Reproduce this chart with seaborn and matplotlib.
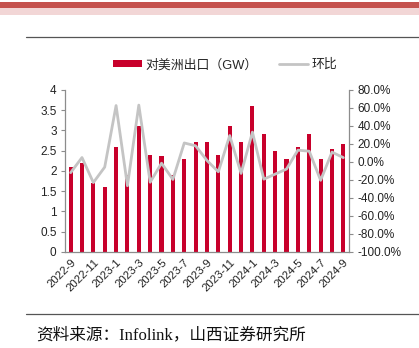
import numpy as np
import pandas as pd
import matplotlib
matplotlib.use("Agg")
import matplotlib.pyplot as plt
from matplotlib.patches import Patch, Rectangle
from matplotlib.lines import Line2D
import seaborn as sns

months = ["2022-9", "2022-10", "2022-11", "2022-12", "2023-1", "2023-2", "2023-3",
          "2023-4", "2023-5", "2023-6", "2023-7", "2023-8", "2023-9", "2023-10",
          "2023-11", "2023-12", "2024-1", "2024-2", "2024-3", "2024-4", "2024-5",
          "2024-6", "2024-7", "2024-8", "2024-9"]
export_gw = [2.1, 2.2, 1.7, 1.6, 2.6, 1.9, 3.1, 2.4, 2.37, 1.9, 2.3, 2.7, 2.72,
             2.4, 3.1, 2.7, 3.6, 2.9, 2.5, 2.3, 2.6, 2.9, 2.3, 2.55, 2.67]
mom_pct = [-12.0, 4.8, -23.0, -5.8, 62.5, -26.5, 63.0, -22.6, -1.5, -19.5, 21.0,
           17.8, 1.5, -11.0, 29.2, -12.8, 33.0, -19.2, -13.6, -8.0, 13.0, 11.8,
           -20.5, 10.8, 4.7]
left_ticks = [0, 0.5, 1, 1.5, 2, 2.5, 3, 3.5, 4]
left_labels = ["0", "0.5", "1", "1.5", "2", "2.5", "3", "3.5", "4"]
right_ticks = [-100, -80, -60, -40, -20, 0, 20, 40, 60, 80]
right_labels = ["-100.0%", "-80.0%", "-60.0%", "-40.0%", "-20.0%", "0.0%",
                "20.0%", "40.0%", "60.0%", "80.0%"]
bar_label = "对美洲出口（GW）"
line_label = "环比"
source_text = "资料来源：Infolink，山西证券研究所"

BAR_COLOR = "#C8002B"
LINE_COLOR = "#C4C4C4"
AXIS_COLOR = "#8C8C8C"
TICK_FS = 8.5

sns.set_style("white")
plt.rcParams["font.family"] = ["Liberation Sans", "Noto Sans CJK SC", "DejaVu Sans"]

df = pd.DataFrame({"month": months, "gw": export_gw, "mom": mom_pct,
                   "pos": np.arange(len(months))})

fig = plt.figure(figsize=(4.19, 3.48), dpi=100)
ax = fig.add_axes([0.155, 0.276, 0.678, 0.466])

sns.barplot(data=df, x="month", y="gw", order=months, color=BAR_COLOR,
            width=0.36, saturation=1, ax=ax, edgecolor="none")
ax.set_xlim(-0.5, len(months) - 0.5)
ax.set_ylim(0, 4)
ax.set_yticks(left_ticks)
ax.set_yticklabels(left_labels, fontsize=TICK_FS, color="#222222")
ax.set_xlabel("")
ax.set_ylabel("")

ax2 = ax.twinx()
sns.lineplot(data=df, x="pos", y="mom", color=LINE_COLOR, linewidth=2.0, ax=ax2,
             legend=False)
ax2.set_ylim(-100, 80)
ax2.set_yticks(right_ticks)
ax2.set_yticklabels(right_labels, fontsize=TICK_FS, color="#222222")
ax2.set_ylabel("")
ax2.set_xlim(-0.5, len(months) - 0.5)

# x ticks: labels every 2 months, tick marks at category boundaries
ax.set_xticks(np.arange(0, len(months), 2))
ax.set_xticklabels(months[::2], rotation=45, ha="right", rotation_mode="anchor",
                   fontsize=8.2, color="#222222")
ax.set_xticks(np.arange(-0.5, len(months), 1), minor=True)
ax.tick_params(axis="x", which="major", length=0, pad=4)
ax.tick_params(axis="x", which="minor", length=3, color=AXIS_COLOR, width=0.8)
ax.tick_params(axis="y", length=3, color=AXIS_COLOR, width=0.8, pad=3, left=True)
ax2.tick_params(axis="y", length=3, color=AXIS_COLOR, width=0.8, pad=3, right=True)
ax2.tick_params(axis="x", which="both", length=0)

for a in (ax, ax2):
    for s in a.spines.values():
        s.set_visible(False)
ax.spines["left"].set_visible(True)
ax.spines["bottom"].set_visible(True)
ax2.spines["right"].set_visible(True)
for s in (ax.spines["left"], ax.spines["bottom"], ax2.spines["right"]):
    s.set_color(AXIS_COLOR)
    s.set_linewidth(0.9)

# legend
handles = [Patch(facecolor=BAR_COLOR, edgecolor="none", label=bar_label),
           Line2D([0], [0], color=LINE_COLOR, linewidth=2.0, label=line_label)]
fig.legend(handles=handles, loc="center", bbox_to_anchor=(0.537, 0.813), ncol=2,
           frameon=False, fontsize=9.3, handlelength=2.3, handleheight=0.45,
           handletextpad=0.25, columnspacing=1.6)

# page decorations
fig.patches.append(Rectangle((0, 0.977), 1, 0.016, transform=fig.transFigure,
                             facecolor="#C5524E", edgecolor="none"))
fig.patches.append(Rectangle((0, 0.957), 1, 0.020, transform=fig.transFigure,
                             facecolor="#F2D6D6", edgecolor="none"))
fig.add_artist(Line2D([0.062, 1.0], [0.894, 0.894], transform=fig.transFigure,
                      color="#555555", linewidth=0.9))
fig.add_artist(Line2D([0.062, 1.0], [0.098, 0.098], transform=fig.transFigure,
                      color="#555555", linewidth=0.9))
fig.text(0.086, 0.037, source_text, fontsize=12, va="center", ha="left",
         family=["Liberation Serif", "Noto Sans CJK SC"], color="#111111")

fig.savefig("out.png", dpi=100)
